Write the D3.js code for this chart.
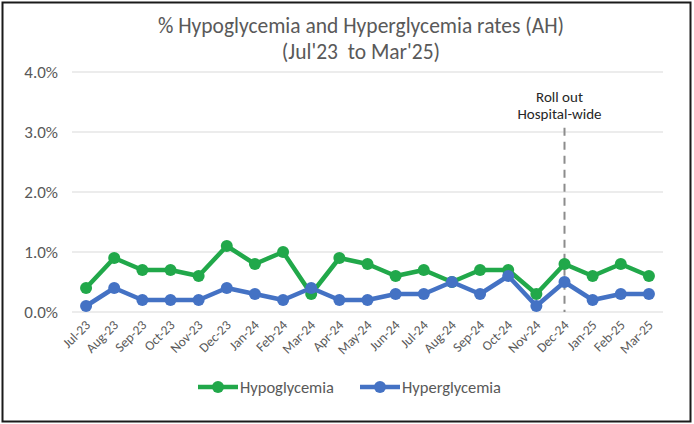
<!DOCTYPE html>
<html>
<head>
<meta charset="utf-8">
<script src="https://cdn.jsdelivr.net/npm/d3@7"></script>
<style>
  body { margin: 0; background: #fff; }
  text { font-family: Carlito, Calibri, "Liberation Sans", Arial, sans-serif; }
</style>
</head>
<body>
<div id="chart"></div>
<script>
// data
var months = ["Jul-23","Aug-23","Sep-23","Oct-23","Nov-23","Dec-23","Jan-24","Feb-24","Mar-24","Apr-24","May-24",
              "Jun-24","Jul-24","Aug-24","Sep-24","Oct-24","Nov-24","Dec-24","Jan-25","Feb-25","Mar-25"];
var hypo  = [0.4,0.9,0.7,0.7,0.6,1.1,0.8,1.0,0.3,0.9,0.8,0.6,0.7,0.5,0.7,0.7,0.3,0.8,0.6,0.8,0.6];
var hyper = [0.1,0.4,0.2,0.2,0.2,0.4,0.3,0.2,0.4,0.2,0.2,0.3,0.3,0.5,0.3,0.6,0.1,0.5,0.2,0.3,0.3];
var yTicks = [0, 1, 2, 3, 4];
var rollOutMonth = "Dec-24";
var seriesNames = ["Hypoglycemia", "Hyperglycemia"];
var colors = ["#21a84a", "#4472c4"];

var W = 694, H = 424;
var margin = {top: 72, right: 31, bottom: 112, left: 72},
    width = W - margin.left - margin.right,
    height = H - margin.top - margin.bottom;

var svg = d3.select("#chart")
  .append("svg")
    .attr("width", W)
    .attr("height", H);

// outer frame
svg.append("rect")
  .attr("x", 2.5).attr("y", 2.5)
  .attr("width", W - 6).attr("height", H - 5)
  .attr("fill", "none")
  .attr("stroke", "#1a1a1a")
  .attr("stroke-width", 2);

// title
var title = svg.append("text")
  .attr("text-anchor", "middle")
  .attr("xml:space", "preserve")
  .style("font-size", "21.5px")
  .attr("fill", "#595959");
title.append("tspan").attr("x", 361).attr("y", 33).text("% Hypoglycemia and Hyperglycemia rates (AH)");
title.append("tspan").attr("x", 361).attr("y", 59).text("(Jul'23  to Mar'25)");

var g = svg.append("g")
  .attr("transform", "translate(" + margin.left + "," + margin.top + ")");

var x = d3.scaleBand()
  .domain(months)
  .range([0, width]);

var y = d3.scaleLinear()
  .domain([0, 4])
  .range([height, 0]);

// gridlines
g.append("g")
  .selectAll("line")
  .data(yTicks)
  .enter()
  .append("line")
    .attr("x1", 0)
    .attr("x2", width)
    .attr("y1", function(d) { return y(d); })
    .attr("y2", function(d) { return y(d); })
    .attr("stroke", "#d9d9d9")
    .attr("stroke-width", 1.2);

// y axis labels
var yAxis = g.append("g")
  .call(d3.axisLeft(y).tickValues(yTicks).tickSize(0).tickPadding(14)
    .tickFormat(function(d) { return d.toFixed(1) + "%"; }));
yAxis.select(".domain").remove();
yAxis.selectAll("text")
  .style("font-size", "17px")
  .attr("fill", "#595959");

// x axis labels
var xAxis = g.append("g")
  .attr("transform", "translate(0," + height + ")")
  .call(d3.axisBottom(x).tickSize(0).tickPadding(0));
xAxis.select(".domain").remove();
xAxis.selectAll("text")
  .style("font-size", "13.5px")
  .attr("fill", "#595959")
  .style("text-anchor", "end")
  .attr("dy", null)
  .attr("transform", "translate(5,14)rotate(-45)");

// roll out marker
var rx = x(rollOutMonth) + x.bandwidth() / 2;
g.append("line")
  .attr("x1", rx).attr("x2", rx)
  .attr("y1", y(3.07)).attr("y2", y(0))
  .attr("stroke", "#8c8c8c")
  .attr("stroke-width", 2)
  .attr("stroke-dasharray", "8,6");
var note = g.append("text")
  .attr("text-anchor", "middle")
  .style("font-size", "15px")
  .attr("fill", "#262626");
note.append("tspan").attr("x", rx - 5).attr("y", 102 - margin.top).text("Roll out");
note.append("tspan").attr("x", rx - 5).attr("y", 119 - margin.top).text("Hospital-wide");

// series
var allSeries = [hypo, hyper];
var line = d3.line()
  .x(function(d, i) { return x(months[i]) + x.bandwidth() / 2; })
  .y(function(d) { return y(d); });

allSeries.forEach(function(vals, k) {
  g.append("path")
    .datum(vals)
    .attr("fill", "none")
    .attr("stroke", colors[k])
    .attr("stroke-width", 4.5)
    .attr("stroke-linejoin", "round")
    .attr("d", line);
  g.selectAll("circle.s" + k)
    .data(vals)
    .enter()
    .append("circle")
      .attr("class", "s" + k)
      .attr("cx", function(d, i) { return x(months[i]) + x.bandwidth() / 2; })
      .attr("cy", function(d) { return y(d); })
      .attr("r", 6)
      .attr("fill", colors[k]);
});

// legend
var legendX = [198, 360];
var legend = svg.append("g");
seriesNames.forEach(function(name, k) {
  var lx = legendX[k];
  legend.append("line")
    .attr("x1", lx).attr("x2", lx + 40)
    .attr("y1", 387).attr("y2", 387)
    .attr("stroke", colors[k])
    .attr("stroke-width", 4.5);
  legend.append("circle")
    .attr("cx", lx + 20).attr("cy", 387).attr("r", 6)
    .attr("fill", colors[k]);
  legend.append("text")
    .attr("x", lx + 42).attr("y", 393)
    .style("font-size", "16.5px")
    .attr("fill", "#595959")
    .text(name);
});
</script>
</body>
</html>
